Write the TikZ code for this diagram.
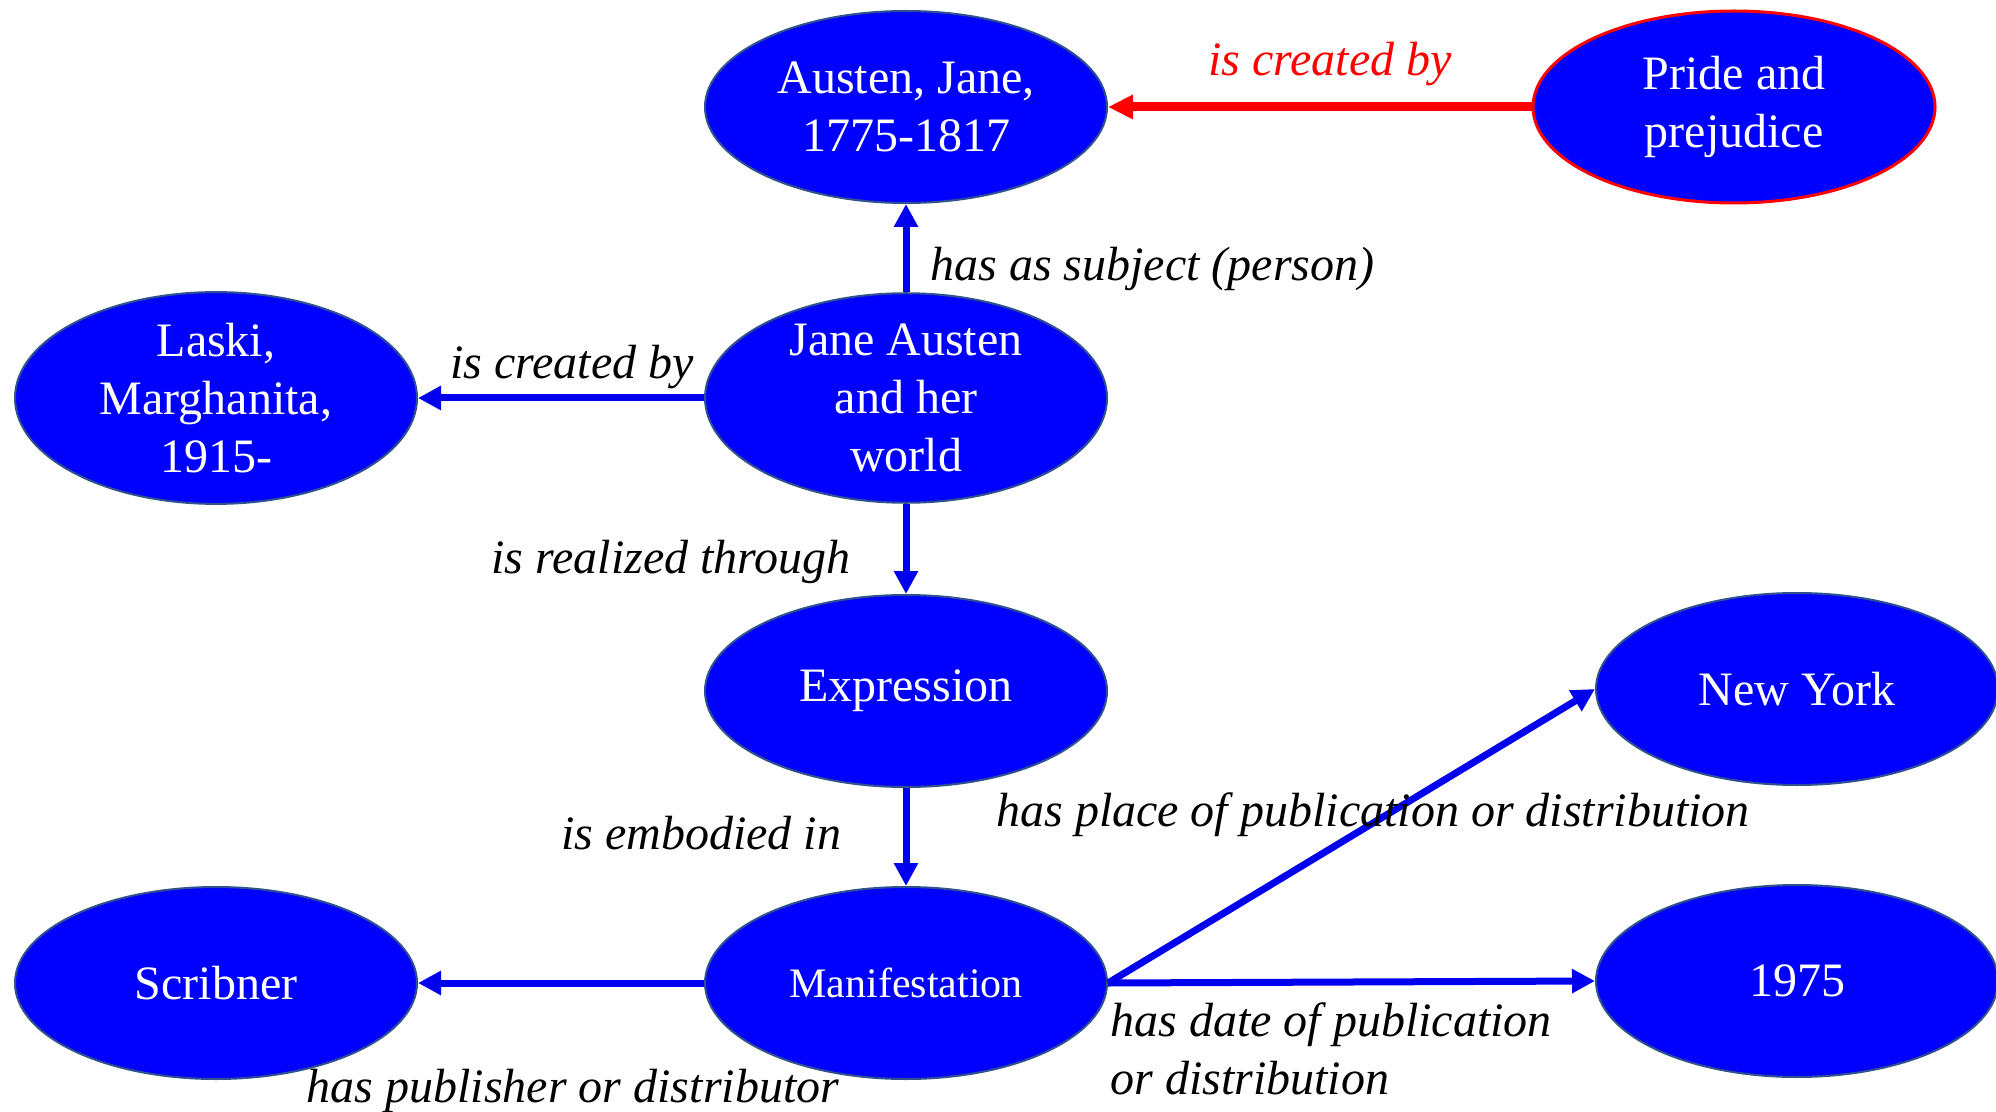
\documentclass[tikz,border=0pt]{standalone}
\usepackage{fontspec}
\setmainfont{Liberation Serif}
\usetikzlibrary{shapes.geometric,arrows.meta}
\definecolor{nodeblue}{RGB}{0,0,255}
\definecolor{rimblue}{RGB}{47,82,143}
\definecolor{lineblue}{RGB}{0,0,238}
\definecolor{redline}{RGB}{255,0,0}
\begin{document}
\begin{tikzpicture}[x=0.5pt,y=-0.5pt,
  ent/.style={ellipse,fill=nodeblue,draw=rimblue,line width=1pt,inner sep=0pt,
    minimum width=201pt,minimum height=96pt,text=white,align=center,yshift=-1.5pt,
    font=\fontsize{24}{29}\selectfont},
  rel/.style={draw=lineblue,line width=3.5pt,-{Triangle[length=11.5pt,width=11.5pt]}},
  relred/.style={draw=redline,line width=4.5pt,-{Triangle[length=12.5pt,width=11.5pt]}},
  lab/.style={font=\fontsize{24}{29}\selectfont\itshape,inner sep=0pt,align=left}]
\useasboundingbox (0,0) rectangle (1996,1112);
\fill[white] (0,0) rectangle (1996,1112);
% nodes
\node[ent] (austen) at (906,104) {Austen, Jane,\\1775-1817};
\node[ent,draw=redline,line width=1.5pt] (pride) at (1734,104) {Pride and\\prejudice};
\node[ent] (work) at (906,395) {Jane Austen\\and her\\world};
\node[ent] (laski) at (216,395) {Laski,\\Marghanita,\\1915-};
\node[ent] (expr) at (906,688) {Expression};
\node[ent] (ny) at (1797,686) {New York};
\node[ent,font=\fontsize{21}{25}\selectfont] (man) at (906,980) {Manifestation};
\node[ent] (scrib) at (216,980) {Scribner};
\node[ent] (year) at (1797,978) {1975};
% edges
\draw[relred] (pride.west) -- (austen.east);
\draw[rel] (work.north) -- (austen.south);
\draw[rel] (work.west) -- (laski.east);
\draw[rel] (work.south) -- (expr.north);
\draw[rel] (expr.south) -- (man.north);
\draw[rel] (man.west) -- (scrib.east);
\draw[rel] (man.east) -- (ny.west);
\draw[rel] (man.east) -- (year.west);
% labels
\node[lab,text=redline] (l1) at (1330,64) {is created by};
\node[lab,anchor=west] (l2) at (930,269) {has as subject (person)};
\node[lab] (l3) at (572,367) {is created by};
\node[lab] (l4) at (671,562) {is realized through};
\node[lab] (l5) at (701,833) {is embodied in};
\node[lab] (l6) at (1373,815) {has place of publication or distribution};
\node[lab,anchor=west] (l7) at (1110,1049) {has date of publication\\or distribution};
\node[lab] (l8) at (573,1091) {has publisher or distributor};
\end{tikzpicture}
\end{document}
